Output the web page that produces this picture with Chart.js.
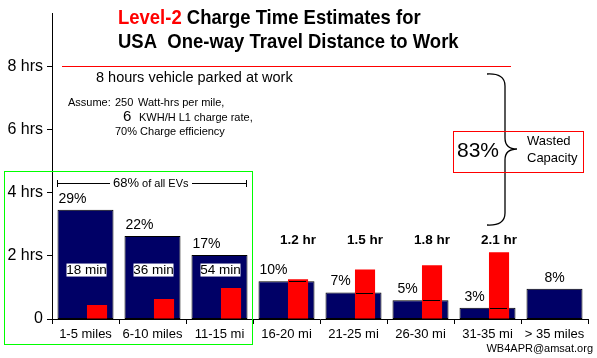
<!DOCTYPE html>
<html><head><meta charset="utf-8">
<script src="https://cdn.jsdelivr.net/npm/chart.js@4/dist/chart.umd.min.js"></script>
<style>html,body{margin:0;padding:0;background:#fff}#wrap{width:597px;height:358px;position:relative}</style>
</head><body><div id="wrap"><canvas id="c" width="597" height="358"></canvas></div>
<script>
// ---- data ----
const categories = ['1-5 miles', '6-10 miles', '11-15 mi', '16-20 mi', '21-25 mi', '26-30 mi', '31-35 mi', '> 35 miles'];
const shareOfEVs = [29, 22, 17, 10, 7, 5, 3, 8];            // percent of EVs (blue bars)
const chargeHours = [0.44, 0.63, 0.98, 1.26, 1.57, 1.70, 2.11, null]; // L2 charge time (red bars)
const shareLabels = ['29%', '22%', '17%', '10%', '7%', '5%', '3%', '8%'];
const minuteLabels = ['18 min', '36 min', '54 min', null, null, null, null, null];
const hourLabels = [null, null, null, '1.2 hr', '1.5 hr', '1.8 hr', '2.1 hr', null];
const yTicks = [0, 2, 4, 6, 8];
const yTickLabels = ['0', '2 hrs', '4 hrs', '6 hrs', '8 hrs'];
const parkedHours = 8;
const wastedPct = '83%';
const groupShare = '68%';

const FONT = "'Liberation Sans', Arial, sans-serif";
const NAVY = '#000066';
const RED = '#ff0000';

const redPoints = [];
chargeHours.forEach((v, i) => { if (v != null) redPoints.push({ x: i, y: v }); });

const annot = {
  id: 'annot',
  afterDatasetsDraw(chart) {
    const ctx = chart.ctx;
    const y = chart.scales.y, y2 = chart.scales.y2;
    const blue = chart.getDatasetMeta(0).data;
    const red = chart.getDatasetMeta(1).data;
    const redByCat = {};
    red.forEach((el, k) => { redByCat[redPoints[k].x] = el; });
    ctx.save();
    // black line across red bars at blue bar height
    ctx.strokeStyle = '#000'; ctx.lineWidth = 1;
    Object.keys(redByCat).forEach(k => {
      const i = +k, el = redByCat[k];
      const by = Math.round(y2.getPixelForValue(shareOfEVs[i])) + 0.5;
      if (el.y < by) {
        ctx.beginPath(); ctx.moveTo(el.x - el.width / 2 + 1, by); ctx.lineTo(el.x + el.width / 2 - 2, by); ctx.stroke();
      }
    });
    // percent labels
    ctx.fillStyle = '#000'; ctx.textBaseline = 'middle'; ctx.textAlign = 'center';
    ctx.font = '14px ' + FONT;
    blue.forEach((el, i) => {
      const cx = chargeHours[i] == null ? el.x : el.x - el.width / 2 + 15;
      ctx.fillText(shareLabels[i], cx, el.y - 11);
    });
    // minute boxes
    ctx.font = '13.5px ' + FONT;
    blue.forEach((el, i) => {
      if (!minuteLabels[i]) return;
      const cy = y.getPixelForValue(1.55);
      ctx.fillStyle = '#fff'; ctx.fillRect(el.x - 19, cy - 6.5, 40, 13);
      ctx.fillStyle = '#000'; ctx.fillText(minuteLabels[i], el.x + 1, cy + 0.5);
    });
    // hour labels
    ctx.font = 'bold 13.5px ' + FONT;
    Object.keys(redByCat).forEach(k => {
      const i = +k, el = redByCat[k];
      if (!hourLabels[i]) return;
      ctx.fillText(hourLabels[i], el.x, y.getPixelForValue(2.5));
    });
    // 8-hr line
    const py = Math.round(y.getPixelForValue(parkedHours)) + 0.5;
    ctx.strokeStyle = RED; ctx.beginPath(); ctx.moveTo(62, py); ctx.lineTo(511, py); ctx.stroke();
    ctx.textAlign = 'left';
    ctx.font = '14.5px ' + FONT;
    ctx.fillText('8 hours vehicle parked at work', 96, py + 11);
    // assumptions
    ctx.font = '11px ' + FONT;
    ctx.fillText('Assume:', 68, 103);
    ctx.fillText('250', 115, 103);
    ctx.fillText('Watt-hrs per mile,', 138, 103);
    ctx.font = '15px ' + FONT;
    ctx.fillText('6', 123, 117);
    ctx.font = '11px ' + FONT;
    ctx.fillText('KWH/H L1 charge rate,', 139, 118);
    ctx.fillText('70% Charge efficiency', 115, 132);
    // green box
    ctx.strokeStyle = '#00ff00'; ctx.lineWidth = 1;
    ctx.strokeRect(4.5, 171.5, 248, 173);
    // 68% bracket
    ctx.strokeStyle = '#000';
    ctx.beginPath();
    ctx.moveTo(57.5, 180); ctx.lineTo(57.5, 187);
    ctx.moveTo(246.5, 180); ctx.lineTo(246.5, 187);
    ctx.moveTo(57, 183.5); ctx.lineTo(110, 183.5);
    ctx.moveTo(192, 183.5); ctx.lineTo(246, 183.5);
    ctx.stroke();
    ctx.font = '13px ' + FONT;
    ctx.fillText(groupShare, 113, 183);
    const w68 = ctx.measureText(groupShare).width;
    ctx.font = '11px ' + FONT;
    ctx.fillText(' of all EVs', 113 + w68, 183.5);
    // brace
    ctx.lineWidth = 1.3;
    ctx.beginPath();
    ctx.moveTo(487, 74);
    ctx.quadraticCurveTo(505, 73, 505, 86);
    ctx.lineTo(505, 138);
    ctx.quadraticCurveTo(505, 149, 517, 149);
    ctx.quadraticCurveTo(505, 149, 505, 160);
    ctx.lineTo(505, 213);
    ctx.quadraticCurveTo(505, 226, 487, 225);
    ctx.stroke();
    // red box
    ctx.strokeStyle = RED; ctx.lineWidth = 1;
    ctx.strokeRect(453.5, 131.5, 130, 41);
    ctx.font = '21px ' + FONT;
    ctx.fillText(wastedPct, 457, 151);
    ctx.font = '13px ' + FONT;
    ctx.fillText('Wasted', 527, 141);
    ctx.fillText('Capacity', 527, 158);
    // credit
    ctx.textAlign = 'right';
    ctx.font = '11px ' + FONT;
    ctx.fillText('WB4APR@amsat.org', 593, 349);
    // title
    ctx.textAlign = 'left'; ctx.textBaseline = 'alphabetic';
    ctx.font = 'bold 21px ' + FONT;
    ctx.save();
    ctx.translate(118, 24); ctx.scale(0.88, 1);
    ctx.fillStyle = RED; ctx.fillText('Level-2', 0, 0);
    const lw = ctx.measureText('Level-2 ').width;
    ctx.fillStyle = '#000'; ctx.fillText('Charge Time Estimates for', lw, 0);
    ctx.restore();
    ctx.save();
    ctx.translate(118, 48); ctx.scale(0.88, 1);
    ctx.fillStyle = '#000'; ctx.fillText('USA  One-way Travel Distance to Work', 0, 0);
    ctx.restore();
    ctx.restore();
  }
};

new Chart(document.getElementById('c'), {
  type: 'bar',
  data: {
    labels: categories,
    datasets: [
      {
        label: 'Share of EVs', data: shareOfEVs, yAxisID: 'y2', xAxisID: 'x', grouped: false,
        backgroundColor: NAVY, borderColor: '#000', borderWidth: 1, borderSkipped: false,
        categoryPercentage: 1, barPercentage: 0.836, order: 1
      },
      {
        label: 'Charge hours', data: redPoints, grouped: false,
        yAxisID: 'y', xAxisID: 'x2', backgroundColor: RED, borderWidth: 0,
        categoryPercentage: 1, barPercentage: 0.3, order: 0
      }
    ]
  },
  options: {
    responsive: false, animation: false, devicePixelRatio: 1,
    layout: { padding: { top: 12, right: 9, left: 0, bottom: 0 } },
    plugins: { legend: { display: false }, tooltip: { enabled: false }, title: { display: false } },
    scales: {
      x: {
        type: 'category', offset: true,
        grid: { display: true, drawOnChartArea: false, drawTicks: true, tickLength: 5, color: '#000', offset: true },
        border: { display: true, color: '#000', width: 1 },
        ticks: { color: '#000', font: { family: FONT, size: 13 }, padding: 3, maxRotation: 0, autoSkip: false },
        afterFit(s) { s.height = 39; }
      },
      x2: {
        type: 'linear', display: false, offset: false,
        min: -0.5 - 0.172, max: 7.5 - 0.172
      },
      y: {
        type: 'linear', min: 0, max: 9.67,
        afterBuildTicks(s) { s.ticks = yTicks.map(v => ({ value: v })); },
        grid: { display: true, drawOnChartArea: false, drawTicks: true, tickLength: 5, color: '#000' },
        border: { display: true, color: '#000', width: 1 },
        ticks: {
          color: '#000', font: { family: FONT, size: 16 }, padding: 4,
          callback(v) { const i = yTicks.indexOf(v); return i >= 0 ? yTickLabels[i] : ''; }
        },
        afterFit(s) { s.width = 52; }
      },
      y2: { type: 'linear', display: false, min: 0, max: 81 }
    }
  },
  plugins: [annot]
});
</script>
</body></html>
